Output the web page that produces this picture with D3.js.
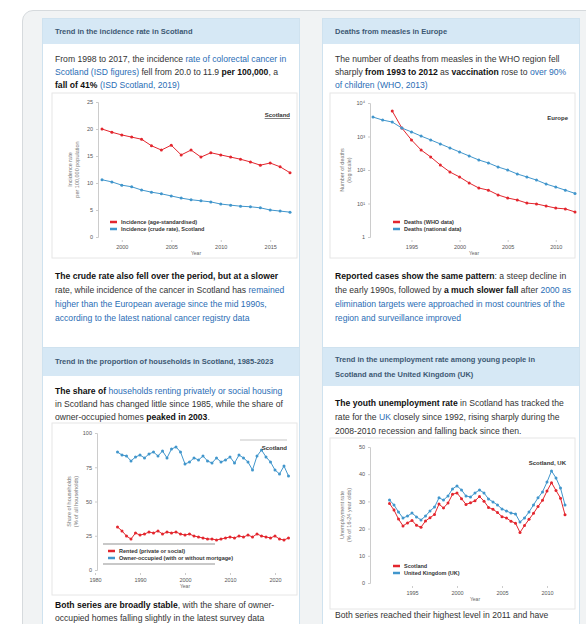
<!DOCTYPE html>
<html>
<head>
<meta charset="utf-8">
<script src="https://cdn.jsdelivr.net/npm/d3@7"></script>
<style>
  body { margin: 0; background: #fff; font-family: "Liberation Sans", Arial, sans-serif; overflow: hidden; width: 586px; height: 624px; position: relative; }
  #outer { position: absolute; left: 22px; top: 10px; width: 600px; height: 700px; background: #f1f3f4; border: 1px solid #d6dadd; border-radius: 11px; }
  .panel { position: absolute; background: #fff; border: 1px solid #cfe2ef; width: 256px; }
  .hdr { position: absolute; left: 0; right: 0; top: 0; background: #d6e8f5; color: #3c5873; font-size: 7.5px; font-weight: bold; padding: 0 12px; box-sizing: border-box; }
  .txt { position: absolute; left: 12px; width: 236px; font-size: 8.6px; color: #333; }
  .txt a { color: #2a6db5; text-decoration: none; }
  .txt b { color: #111; }
  svg.chart { position: absolute; left: 0; top: 0; overflow: visible; }
  .tick text { fill: #555; font-size: 5.5px; }
</style>
</head>
<body>
<div id="outer"></div>

<div class="panel" style="left:42px;top:18px;height:330px">
  <div class="hdr" style="height:25px;line-height:25px">Trend in the incidence rate in Scotland</div>
  <div class="txt" style="top:34px;line-height:13px">From 1998 to 2017, the incidence <a>rate of colorectal cancer in</a>
  <a>Scotland (ISD figures)</a> fell from 20.0 to 11.9 <b>per 100,000</b>, a <b>fall of 41%</b>
  <a>(ISD Scotland, 2019)</a></div>
  <div class="txt" style="top:250px;line-height:14px"><b>The crude rate also fell over the period, but at a slower</b> rate, while incidence of the cancer in Scotland has
  <a>remained higher than the European average since the mid</a>
  <a>1990s, according to the latest national cancer registry data</a></div>
</div>

<div class="panel" style="left:322px;top:18px;height:330px">
  <div class="hdr" style="height:25px;line-height:25px">Deaths from measles in Europe</div>
  <div class="txt" style="top:34px;line-height:13px">The number of deaths from measles in the WHO region fell sharply <b>from 1993 to 2012</b> as <b>vaccination</b> rose to <a>over 90% of children (WHO, 2013)</a></div>
  <div class="txt" style="top:250px;line-height:14px"><b>Reported cases show the same pattern</b>: a steep decline in the early 1990s, followed by <b>a much slower fall</b> after <a>2000 as elimination targets were approached</a>
  <a>in most countries of the region and surveillance improved</a></div>
</div>

<div class="panel" style="left:42px;top:347px;height:300px">
  <div class="hdr" style="height:28px;line-height:28px">Trend in the proportion of households in Scotland, 1985-2023</div>
  <div class="txt" style="top:37px;line-height:13px"><b>The share of</b> <a>households renting privately or social housing</a> in Scotland has changed little since 1985, while the share of owner-occupied homes <b>peaked in 2003</b>.</div>
  <div class="txt" style="top:251px;line-height:13px"><b>Both series are broadly stable</b>, with the share of owner-occupied homes falling slightly in the latest survey data</div>
</div>

<div class="panel" style="left:322px;top:347px;height:300px">
  <div class="hdr" style="height:38px;line-height:15px;padding-top:4px">Trend in the unemployment rate among young people in Scotland and the United Kingdom (UK)</div>
  <div class="txt" style="top:48px;line-height:14px"><b>The youth unemployment rate</b> in Scotland has tracked the rate for the <a>UK</a> closely since 1992, rising sharply during the 2008-2010 recession and falling back since then.</div>
  <div class="txt" style="top:261px;line-height:13px">Both series reached their highest level in 2011 and have fallen every year since then.</div>
</div>

<script>
// chart 1: incidence per 100,000, 1998-2017
const years1 = d3.range(1998, 2018)
const incAge = [20.0, 19.4, 18.9, 18.5, 18.1, 16.9, 16.1, 17.0, 15.2, 16.1, 14.8, 15.6, 15.2, 14.8, 14.4, 13.9, 13.3, 13.7, 13.0, 11.9]
const incCrude = [10.6, 10.2, 9.6, 9.3, 8.7, 8.3, 8.0, 7.6, 7.2, 6.9, 6.7, 6.5, 6.1, 5.9, 5.7, 5.6, 5.4, 5.0, 4.8, 4.6]
const ticks1 = [0, 5, 10, 15, 20, 25]
const xticks1 = [2000, 2005, 2010, 2015]

// chart 2: measles deaths (log)
const years2red = d3.range(1993, 2013)
const years2blue = d3.range(1991, 2013)
const deathsA = [5750, 1790, 790, 395, 245, 141, 87, 62, 41, 29, 25, 18, 14.6, 12.7, 10.3, 9.7, 8.4, 7.3, 6.9, 5.6]
const deathsB = [3800, 3100, 2700, 1790, 1370, 1030, 790, 600, 455, 345, 262, 199, 162, 123, 100, 76, 62, 50, 38, 31, 25, 20]
const ticks2 = [1, 10, 100, 1000, 10000]
const tickLabels2 = ['1', '10¹', '10²', '10³', '10⁴']
const xticks2 = [1995, 2000, 2005, 2010]

// chart 3: share of households (%), 1985-2023
const years3 = d3.range(1985, 2024)
const shareOwn = [86.1, 83.9, 83.2, 79.6, 82.5, 83.9, 81.8, 84.7, 86.1, 83.2, 86.9, 81.8, 88.3, 89.8, 86.1, 77.4, 78.8, 81.8, 80.3, 83.2, 79.6, 78.1, 81.8, 78.8, 80.3, 82.5, 78.1, 83.9, 81.8, 78.8, 73.0, 83.2, 87.6, 82.5, 78.8, 73.0, 70.1, 75.9, 68.6]
const shareRent = [31.4, 28.5, 24.8, 22.6, 27.0, 25.5, 26.3, 27.7, 27.0, 28.5, 26.3, 27.7, 27.0, 27.7, 26.3, 25.5, 26.3, 24.8, 24.1, 23.4, 22.6, 22.6, 21.9, 22.6, 23.4, 24.1, 23.4, 24.8, 24.1, 25.5, 24.1, 26.3, 24.8, 24.1, 23.4, 24.8, 22.6, 21.9, 23.4]
const ticks3 = [0, 25, 50, 75, 100]
const xticks3 = [1980, 1990, 2000, 2010, 2020]

// chart 4: youth unemployment (%), half-yearly
const periods4 = d3.range(1992.5, 2012.01, 0.5)
const unempScot = [29.2, 26.8, 23.5, 21.0, 22.1, 23.0, 21.2, 20.5, 22.8, 24.0, 25.2, 29.0, 27.6, 29.4, 32.6, 33.1, 31.0, 28.9, 29.5, 30.2, 31.8, 30.1, 27.8, 27.1, 25.9, 24.4, 23.9, 22.7, 22.0, 18.6, 21.1, 23.4, 25.6, 28.1, 30.4, 33.8, 36.9, 34.0, 31.2, 25.1]
const unempUK = [30.5, 28.7, 26.1, 23.9, 24.6, 25.7, 24.3, 23.2, 24.6, 26.5, 27.9, 31.3, 30.5, 32.0, 34.6, 35.7, 34.2, 32.0, 31.6, 33.1, 34.2, 33.1, 30.9, 29.8, 28.7, 27.2, 26.5, 25.7, 25.4, 22.4, 23.9, 26.1, 28.7, 31.3, 33.5, 37.1, 41.2, 38.6, 34.9, 28.7]
const ticks4 = [0, 10, 20, 30, 40, 50]
const xticks4 = [1995, 2000, 2005, 2010]

const RED = '#e3262e'
const BLUE = '#4196cc'

var svg = d3.select('body').append('svg')
  .attr('class', 'chart')
  .attr('width', 586)
  .attr('height', 624)

// draws one small chart; box is the light frame around it
function drawChart(o) {
  var g = svg.append('g')

  g.append('rect')
    .attr('x', o.box[0]).attr('y', o.box[1])
    .attr('width', o.box[2]).attr('height', o.box[3])
    .attr('fill', 'none').attr('stroke', '#e6e6e6')

  var yAxis = d3.axisLeft(o.y).tickValues(o.yticks).tickSize(2)
  if (o.ylabels) yAxis.tickFormat((d, i) => o.ylabels[i])
  var ya = g.append('g')
    .attr('transform', 'translate(' + o.axisX + ',0)')
    .call(yAxis)
  ya.select('.domain').attr('stroke', '#ccc')
  ya.selectAll('.tick line').attr('stroke', '#ccc')

  var xa = g.append('g')
    .attr('transform', 'translate(0,' + (o.y.range()[0] + 3) + ')')
    .call(d3.axisBottom(o.x).tickValues(o.xticks).tickSize(2).tickFormat(d3.format('d')))
  xa.select('.domain').remove()
  xa.selectAll('.tick line').attr('stroke', '#ccc')

  // axis titles
  g.append('text')
    .attr('x', (o.x.range()[0] + o.x.range()[1]) / 2)
    .attr('y', o.y.range()[0] + 18)
    .attr('text-anchor', 'middle')
    .attr('font-size', 5).attr('fill', '#666')
    .text('Year')
  o.ytitle.forEach(function (t, i) {
    g.append('text')
      .attr('transform', 'translate(' + (o.axisX - 26 + i * 7) + ',' + ((o.y.range()[0] + o.y.range()[1]) / 2) + ') rotate(-90)')
      .attr('text-anchor', 'middle')
      .attr('font-size', 5.5).attr('fill', '#777')
      .text(t)
  })

  o.series.forEach(function (s) {
    var pts = s.x.map((d, i) => [d, s.v[i]])
    g.append('path')
      .datum(pts)
      .attr('fill', 'none')
      .attr('stroke', s.color)
      .attr('stroke-width', 1)
      .attr('d', d3.line().x(d => o.x(d[0])).y(d => o.y(d[1])))
    g.selectAll(null)
      .data(pts)
      .enter()
      .append('circle')
      .attr('cx', d => o.x(d[0]))
      .attr('cy', d => o.y(d[1]))
      .attr('r', 1.5)
      .attr('fill', s.color)
  })

  // legend
  o.series.forEach(function (s, i) {
    var ly = o.legend[1] + i * 7
    g.append('line')
      .attr('x1', o.legend[0]).attr('x2', o.legend[0] + 7)
      .attr('y1', ly).attr('y2', ly)
      .attr('stroke', s.color).attr('stroke-width', 2.5)
    g.append('text')
      .attr('x', o.legend[0] + 11).attr('y', ly + 2)
      .attr('font-size', 5.5).attr('font-weight', 'bold').attr('fill', '#333')
      .text(s.name)
  })

  // place label
  g.append('text')
    .attr('x', o.label[0]).attr('y', o.label[1])
    .attr('text-anchor', 'end')
    .attr('font-size', 6).attr('font-weight', 'bold').attr('fill', '#333')
    .attr('text-decoration', o.underline ? 'underline' : null)
    .text(o.label[2])
  return g
}

drawChart({
  box: [52, 93, 245, 165],
  axisX: 98,
  x: d3.scaleLinear().domain([1998, 2017]).range([102, 290]),
  y: d3.scaleLinear().domain([0, 25]).range([237, 102]),
  yticks: ticks1,
  xticks: xticks1,
  ytitle: ['Incidence rate', 'per 100,000 population'],
  series: [
    { x: years1, v: incAge, color: RED, name: 'Incidence (age-standardised)' },
    { x: years1, v: incCrude, color: BLUE, name: 'Incidence (crude rate), Scotland' }
  ],
  legend: [110, 222],
  label: [290, 117, 'Scotland'],
  underline: true
})

drawChart({
  box: [330, 93, 245, 165],
  axisX: 370,
  x: d3.scaleLinear().domain([1991, 2012]).range([373, 575]),
  y: d3.scaleLog().domain([1, 10000]).range([237, 103]),
  yticks: ticks2,
  ylabels: tickLabels2,
  xticks: xticks2,
  ytitle: ['Number of deaths', '(log scale)'],
  series: [
    { x: years2red, v: deathsA, color: RED, name: 'Deaths (WHO data)' },
    { x: years2blue, v: deathsB, color: BLUE, name: 'Deaths (national data)' }
  ],
  legend: [393, 222],
  label: [568, 120, 'Europe']
})

var g3 = drawChart({
  box: [52, 423, 245, 172],
  axisX: 97,
  x: d3.scaleLinear().domain([1980, 2020]).range([95, 275]),
  y: d3.scaleLinear().domain([0, 100]).range([570, 433]),
  yticks: ticks3,
  xticks: xticks3,
  ytitle: ['Share of households', '(% of all households)'],
  series: [
    { x: years3, v: shareRent, color: RED, name: 'Rented (private or social)' },
    { x: years3, v: shareOwn, color: BLUE, name: 'Owner-occupied (with or without mortgage)' }
  ],
  legend: [108, 551],
  label: [287, 450, 'Scotland']
})
// legend rules and label bar for chart 3
g3.append('rect').attr('x', 103).attr('y', 543).attr('width', 112).attr('height', 2).attr('fill', '#c8c8c8')
g3.append('rect').attr('x', 103).attr('y', 563).attr('width', 112).attr('height', 2).attr('fill', '#c8c8c8')
g3.append('rect').attr('x', 240).attr('y', 439).attr('width', 47).attr('height', 2).attr('fill', '#e2e2e2')

drawChart({
  box: [330, 438, 245, 171],
  axisX: 370,
  x: d3.scaleLinear().domain([1992, 2012]).range([385, 565]),
  y: d3.scaleLinear().domain([0, 50]).range([583, 447]),
  yticks: ticks4,
  xticks: xticks4,
  ytitle: ['Unemployment rate', '(% of 16-24 year olds)'],
  series: [
    { x: periods4, v: unempScot, color: RED, name: 'Scotland' },
    { x: periods4, v: unempUK, color: BLUE, name: 'United Kingdom (UK)' }
  ],
  legend: [393, 566],
  label: [566, 465, 'Scotland, UK']
})
</script>
</body>
</html>
